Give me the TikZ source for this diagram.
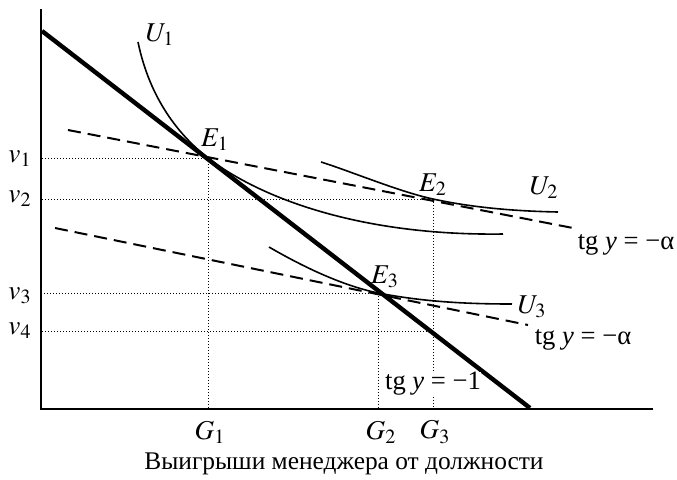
\documentclass[tikz,border=0pt]{standalone}
\usepackage{mathptmx}
\usepackage{fontspec}
\setmainfont{Liberation Serif}
\begin{document}
\begin{tikzpicture}[x=0.5pt,y=-0.5pt,
    every node/.style={font=\fontsize{13.6pt}{16pt}\selectfont,inner sep=1pt},
    slope/.style={font=\fontsize{13.3pt}{16pt}\selectfont},
    guide/.style={dash pattern=on 0.5pt off 1pt,line width=0.4pt},
    tangent/.style={dash pattern=on 6.5pt off 3.5pt,line width=1pt},
    indiff/.style={line width=0.8pt}]
    \useasboundingbox (0,0) rectangle (677,479);
    % axes
    \coordinate (O) at (41,409);
    \draw[line width=0.7pt] (41,9) -- (O) -- (653,409);
    % points of tangency
    \coordinate (E1) at (208,158);
    \coordinate (E2) at (433,199);
    \coordinate (E3) at (378,293);
    \coordinate (B4) at (430,331);
    % guide lines
    \draw[guide] (E1) -- (E1 -| O);
    \draw[guide] (E1) -- (E1 |- O);
    \draw[guide] (E2) -- (E2 -| O);
    \draw[guide] (E2) -- (E2 |- O);
    \draw[guide] (E3) -- (E3 -| O);
    \draw[guide] (E3) -- (E3 |- O);
    \draw[guide] (B4) -- (B4 -| O);
    % budget line and dashed tangents
    \draw[line width=2.2pt] (42,31) -- (530,408);
    \draw[tangent] (68,130) -- (573,228);
    \draw[tangent] (55,228) -- (528,325);
    % indifference curves
    \draw[indiff] (138,42) .. controls (150,100) and (180,136) .. (E1)
        .. controls (260,198) and (360,236) .. (503,234);
    \draw[indiff] (321,162) .. controls (350,171) and (400,192) .. (E2)
        .. controls (470,207) and (510,211) .. (558,212);
    \draw[indiff] (269,247) .. controls (300,265) and (340,285) .. (E3)
        .. controls (420,301) and (460,304) .. (512,304);
    % labels
    \node (U1) at (160,35) {$U_1$};
    \node (U2) at (544,188) {$U_2$};
    \node (U3) at (532,307) {$U_3$};
    \node (lE1) at (215,140) {$E_1$};
    \node (lE2) at (433,185) {$E_2$};
    \node (lE3) at (385,277) {$E_3$};
    \node[slope] (ta1) at (626,245) {tg \textit{y} = −α};
    \node[slope] (ta2) at (583,340) {tg \textit{y} = −α};
    \node[slope,fill=white,inner sep=0pt] (tb) at (433,384) {tg \textit{y} = −1};
    \node (v1) at (20,159) {$v_1$};
    \node (v2) at (20,199) {$v_2$};
    \node (v3) at (20,296) {$v_3$};
    \node (v4) at (20,331) {$v_4$};
    \node (G1) at (210,432) {$G_1$};
    \node (G2) at (381,432) {$G_2$};
    \node (G3) at (435,432) {$G_3$};
    \node[font=\fontsize{12.7pt}{15pt}\selectfont] (cap) at (344,464) {Выигрыши менеджера от должности};
\end{tikzpicture}
\end{document}
